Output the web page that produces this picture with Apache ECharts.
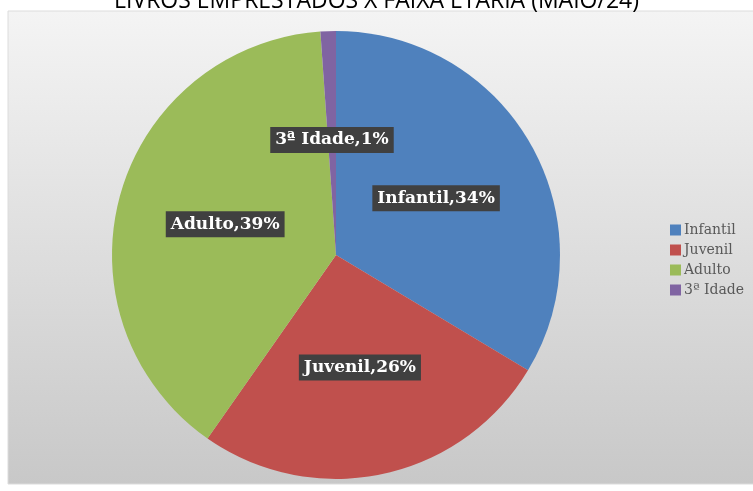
<!DOCTYPE html>
<html>
<head>
<meta charset="utf-8">
<script src="https://cdn.jsdelivr.net/npm/echarts@6/dist/echarts.min.js"></script>
<style>
  html, body { margin: 0; padding: 0; background: #fff; }
  #chart { width: 753px; height: 491px; }
</style>
</head>
<body>
<div id="chart"></div>
<script>
// faixa etária e parcela (estimada dos ângulos)
const categorias = ["Infantil", "Juvenil", "Adulto", "3ª Idade"];
const valores = [121, 94, 141, 4];
const cores = ["#4f81bd", "#c0504d", "#9bbb59", "#8064a2"];
const titulo = "LIVROS EMPRESTADOS X FAIXA ETÁRIA (MAIO/24)";

const chart = echarts.init(document.getElementById("chart"));

const option = {
  animation: false,
  graphic: [
    {
      type: "rect",
      shape: { x: 8, y: 11, width: 760, height: 473 },
      style: {
        fill: {
          type: "linear", x: 0, y: 0, x2: 0, y2: 1,
          colorStops: [
            { offset: 0, color: "#f4f4f4" },
            { offset: 1, color: "#c8c8c8" },
          ],
        },
        stroke: "#dcdcdc",
        lineWidth: 1,
      },
      z: -10,
    },
    {
      type: "text",
      left: "center",
      top: -10,
      style: {
        text: titulo,
        font: "23px 'Open Sans', 'Liberation Sans', sans-serif",
        fill: "#000",
      },
      z: -5,
    },
  ],
  legend: {
    orient: "vertical",
    left: 665,
    top: 218,
    itemWidth: 11,
    itemHeight: 11,
    itemGap: 6,
    icon: "rect",
    textStyle: {
      fontFamily: "'DejaVu Serif', serif",
      fontSize: 14,
      color: "#595959",
      padding: [0, 0, 0, -2],
    },
    data: categorias,
  },
  series: [
    {
      type: "pie",
      center: [336, 255],
      radius: 224,
      startAngle: 90,
      clockwise: true,
      silent: true,
      itemStyle: { borderWidth: 0 },
      label: {
        position: "inside",
        formatter: (p) => p.name + "," + Math.round(p.percent) + "%",
        color: "#fff",
        fontFamily: "'DejaVu Serif', serif",
        fontWeight: "bold",
        fontSize: 17,
        backgroundColor: "#404040",
        padding: [5, 5, 4, 5],
      },
      labelLine: { show: false },
      data: categorias.map((c, i) => ({
        name: c,
        value: valores[i],
        itemStyle: { color: cores[i] },
      })),
    },
  ],
};

chart.setOption(option);
</script>
</body>
</html>
